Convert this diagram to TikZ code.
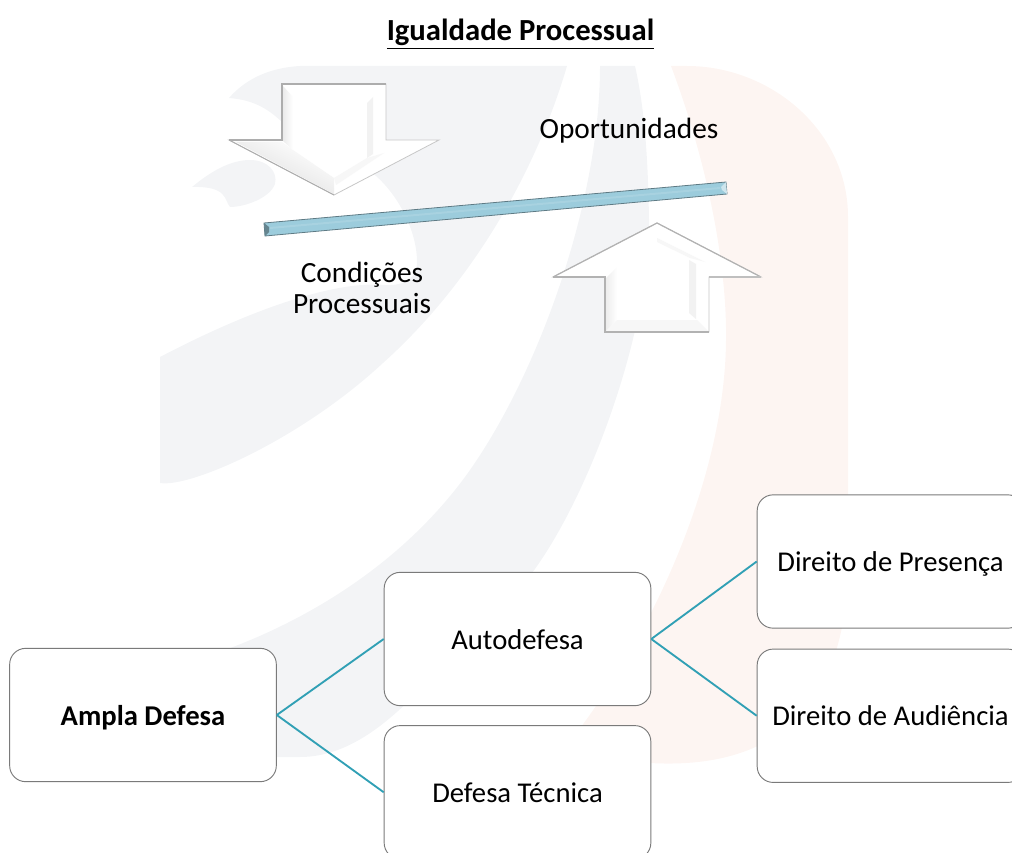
\documentclass[tikz,border=0pt]{standalone}
\usepackage{fontspec}
\setmainfont{Carlito}
\usetikzlibrary{positioning}
\definecolor{wmgray}{HTML}{F3F4F6}
\definecolor{wmpink}{HTML}{FDF5F2}
\definecolor{linkteal}{HTML}{31A0B5}
\definecolor{barblue}{HTML}{9CCCDC}

\begin{document}
\begin{tikzpicture}[
  x=0.75pt,y=-0.75pt,
  node distance=14.25pt and 80pt,
  mybox/.style={draw=black!52,fill=white,line width=0.7pt,rounded corners=12pt,minimum width=200pt,minimum height=100pt,align=center,inner sep=0pt,text height=19pt,text depth=4pt,font=\fontsize{21.5}{24}\selectfont},
  mytext/.style={align=center,inner sep=0pt,font=\fontsize{22}{23.5}\selectfont},
  mylink/.style={draw=linkteal,line width=1.4pt},
  myarrow/.style={fill=white,draw=black!22,line width=0.6pt,line join=miter},
  myfacet/.style={fill=black!5,draw=none}
]
\clip (0,0) rectangle (1012,852);

% watermark
\fill[wmgray] (300,66) .. controls (265,68) and (243,82) .. (229,98)
  .. controls (255,100) and (270,110) .. (285,125) -- (360,165)
  .. controls (390,180) and (417,225) .. (417,262)
  .. controls (417,278) and (405,286) .. (385,285)
  .. controls (330,280) and (240,315) .. (160,357)
  -- (160,483)
  .. controls (190,488) and (300,440) .. (383,363)
  .. controls (470,285) and (535,175) .. (567,66) -- cycle;
\fill[wmgray] (192,187) .. controls (210,172) and (230,160) .. (250,160)
  .. controls (268,160) and (278,172) .. (275,184)
  .. controls (270,198) and (245,207) .. (230,207)
  .. controls (224,200) and (228,186) .. (192,187) -- cycle;
\fill[wmgray] (600,66) .. controls (600,200) and (540,370) .. (470,470)
  .. controls (410,555) and (320,615) .. (225,650) -- (277,757) -- (300,757)
  .. controls (350,757) and (390,720) .. (420,690) -- (532,573)
  .. controls (590,495) and (650,330) .. (649,220)
  .. controls (648,160) and (645,110) .. (635,66) -- cycle;
\fill[wmpink] (671,66) .. controls (710,170) and (727,270) .. (726,340)
  .. controls (725,470) and (660,620) .. (581,727) -- (570,763) -- (650,763)
  .. controls (740,768) and (848,740) .. (848,560) -- (848,217)
  .. controls (848,130) and (770,66) .. (687,66) -- cycle;

% lever
\filldraw[fill=barblue,draw=black!40!barblue,line width=0.6pt] (264,223) -- (726,182) -- (727,194) -- (265,236) -- cycle;
\draw[barblue!88!white,line width=1.5pt] (270,228) -- (720,188);
\fill[black!35!barblue] (264,223) -- (269,227) -- (269,232) -- (265,236) -- cycle;
\fill[barblue!50!white] (726,182) -- (721,187) -- (722,190) -- (727,194) -- cycle;

% arrow down
\filldraw[myarrow] (282,84) -- (386,84) -- (386,140) -- (439,140) -- (334,195) -- (229,140) -- (282,140) -- cycle;
\shade[top color=white,bottom color=black!14,shading angle=-27] (236,142) -- (282,142) -- (293,150) -- (334,178) -- (334,194) -- cycle;
\shade[left color=black!8,right color=white] (283,86) -- (293,97) -- (293,150) -- (283,141) -- cycle;
\fill[myfacet] (373,97) -- (367,103) -- (367,158) -- (373,154) -- cycle;
\fill[myfacet,fill=black!3] (334,178) -- (367,158) -- (384,153) -- (336,185) -- cycle;
\draw[black!32,line width=1.2pt] (229,140) -- (282,140) -- (282,84) -- (386,84);
\draw[black!32,line width=0.7pt] (229,140) -- (334,195);

% arrow up
\filldraw[myarrow] (657,223) -- (761,277) -- (709,277) -- (709,332) -- (605,332) -- (605,277) -- (553,277) -- cycle;
\shade[left color=black!7,right color=white] (606,278) -- (617,267) -- (617,320) -- (606,331) -- cycle;
\fill[myfacet,fill=black!3] (606,331) -- (617,320) -- (697,320) -- (708,331) -- cycle;
\fill[myfacet] (689,260) -- (696,264) -- (696,319) -- (689,313) -- cycle;
\fill[myfacet,fill=black!3] (657,238) -- (705,262) -- (690,258) -- (657,242) -- cycle;
\draw[black!30,line width=0.9pt] (553,277) -- (657,223) -- (761,277);
\draw[black!30,line width=1pt] (553,277) -- (605,277) -- (605,332) -- (709,332);
\draw[black!25,line width=0.8pt] (761,277) -- (709,277);

% texts
\node[mytext,anchor=base,font=\fontsize{23}{24}\bfseries\selectfont] (title) at (520.5,41) {\underline{Igualdade Processual}};
\node[mytext,anchor=base] (oport) at (629,139) {Oportunidades};
\node[mytext] (cond) at (362,288) {Condições\\Processuais};

% tree
\node[mybox,font=\fontsize{21.5}{24}\bfseries\selectfont] (ampla) at (143,715) {Ampla Defesa};
\node[mybox] (auto) at (517.5,639) {Autodefesa};
\node[mybox,below=of auto] (tecnica) {Defesa Técnica};
\node[mybox] (presenca) at (890.5,561.5) {Direito de Presença};
\node[mybox,below=15pt of presenca] (audiencia) {Direito de Audiência};

\path (ampla.east) edge[mylink] (auto.west)
(ampla.east) edge[mylink] (tecnica.west)
(auto.east) edge[mylink] (presenca.west)
(auto.east) edge[mylink] (audiencia.west);

\end{tikzpicture}
\end{document}
